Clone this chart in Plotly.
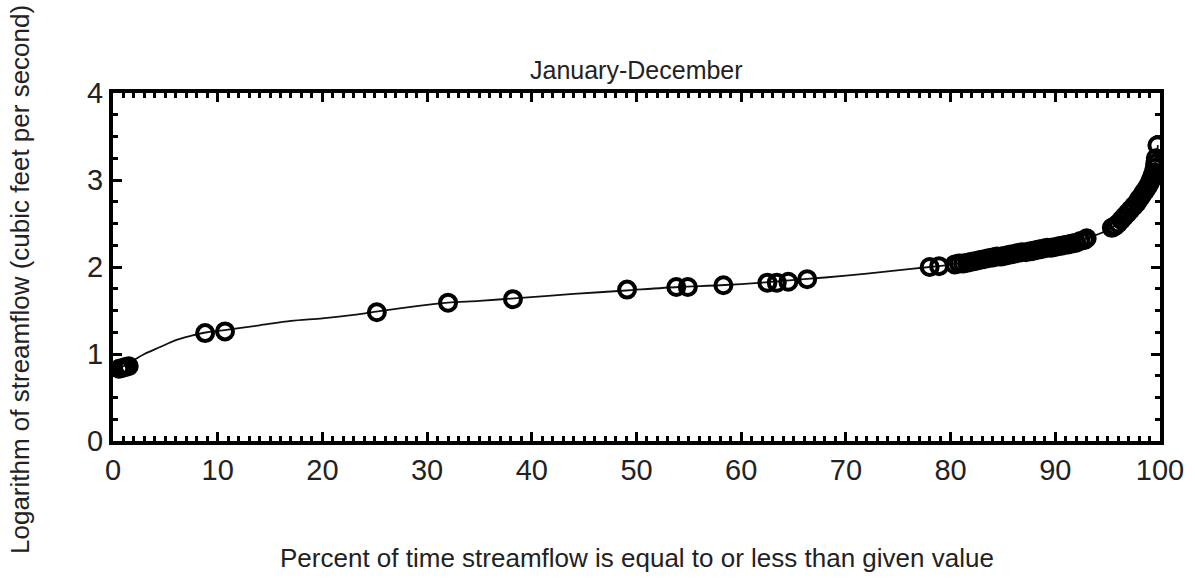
import plotly.graph_objects as go

# Observed (percent of time, log10 streamflow) points
pct = [0.6, 0.9, 1.2, 1.5, 8.8, 10.7, 25.2, 32.0, 38.2, 49.1, 53.8, 54.9, 58.3,
       62.5, 63.4, 64.5, 66.3,
       78.0, 78.9,
       80.4, 80.8, 81.2, 81.6, 82.0, 82.4, 82.8, 83.2, 83.6, 84.0, 84.4, 84.8,
       85.2, 85.6, 86.0, 86.4, 86.8, 87.2, 87.6, 88.0, 88.4, 88.8, 89.2, 89.6,
       90.0, 90.4, 90.8, 91.2, 91.6, 92.0, 92.4, 92.8, 93.0,
       95.4, 95.7, 96.0, 96.3, 96.6, 96.9, 97.2, 97.5, 97.8, 98.0, 98.2, 98.4,
       98.6, 98.8, 98.95, 99.1, 99.2, 99.3, 99.4, 99.5, 99.55, 99.6, 99.75]
logq = [0.83, 0.84, 0.85, 0.86, 1.24, 1.26, 1.48, 1.59, 1.63, 1.74, 1.77, 1.77, 1.79,
        1.82, 1.82, 1.83, 1.86,
        2.00, 2.01,
        2.03, 2.04, 2.04, 2.05, 2.06, 2.07, 2.08, 2.09, 2.10, 2.11, 2.12, 2.12,
        2.13, 2.14, 2.15, 2.16, 2.17, 2.17, 2.18, 2.19, 2.20, 2.21, 2.22, 2.22,
        2.23, 2.24, 2.25, 2.26, 2.27, 2.28, 2.30, 2.31, 2.33,
        2.45, 2.47, 2.50, 2.54, 2.58, 2.62, 2.66, 2.70, 2.74, 2.78, 2.81, 2.85,
        2.88, 2.92, 2.95, 2.99, 3.02, 3.05, 3.09, 3.14, 3.19, 3.25, 3.40]

# Fitted curve
curve_x = [0.2, 1.0, 2.0, 3.0, 4.5, 6.0, 7.5, 9.0, 11.0, 14.0, 17.0, 20.0, 23.0,
           25.3, 29.0, 32.0, 35.0, 38.3, 44.0, 49.0, 54.0, 58.0, 62.0, 66.0, 70.0,
           74.0, 78.0, 82.0, 86.0, 90.0, 93.0, 95.4, 97.0, 98.5, 99.3, 99.8]
curve_y = [0.80, 0.86, 0.93, 1.00, 1.08, 1.16, 1.21, 1.25, 1.28, 1.33, 1.38, 1.41, 1.45,
           1.49, 1.55, 1.59, 1.61, 1.64, 1.69, 1.73, 1.77, 1.79, 1.82, 1.86, 1.90,
           1.95, 2.00, 2.06, 2.15, 2.25, 2.33, 2.45, 2.65, 2.88, 3.05, 3.40]

x_ticks = [0, 10, 20, 30, 40, 50, 60, 70, 80, 90, 100]
y_ticks = [0, 1, 2, 3, 4]

FONT = "Liberation Sans, Arial, sans-serif"

fig = go.Figure()
fig.add_trace(go.Scatter(x=curve_x, y=curve_y, mode="lines",
                         line=dict(color="#111", width=1.8, shape="spline", smoothing=0.8),
                         hoverinfo="skip"))
fig.add_trace(go.Scatter(x=pct, y=logq, mode="markers",
                         marker=dict(symbol="circle-open", size=16, color="black",
                                     line=dict(width=4, color="black"))))

axis_common = dict(showgrid=False, zeroline=False, showline=True, linecolor="black", linewidth=4,
                   mirror="allticks", ticks="inside", tickcolor="black", tickwidth=2.5, ticklen=9,
                   tickfont=dict(family=FONT, size=29, color="#222"))

fig.update_xaxes(range=[0, 100], tickvals=x_ticks, ticktext=[str(v) for v in x_ticks],
                 minor=dict(dtick=1, ticks="inside", ticklen=5, tickwidth=2.5, tickcolor="black"),
                 **axis_common)
fig.update_yaxes(range=[0, 4], tickvals=y_ticks, ticktext=[str(v) for v in y_ticks],
                 minor=dict(dtick=0.25, ticks="inside", ticklen=5, tickwidth=2.5, tickcolor="black"),
                 **axis_common)

fig.update_layout(
    width=1195, height=580,
    margin=dict(l=113, r=35, t=93, b=139, pad=0),
    paper_bgcolor="white", plot_bgcolor="white",
    showlegend=False,
    font=dict(family=FONT, color="#222"),
    annotations=[
        dict(text="January-December", xref="paper", yref="paper", x=0.5, y=1, yanchor="middle",
             yshift=23, showarrow=False, font=dict(family=FONT, size=25, color="#222")),
        dict(text="Percent of time streamflow is equal to or less than given value", xref="paper", yref="paper",
             x=0.5, y=0, yanchor="middle", yshift=-117, showarrow=False,
             font=dict(family=FONT, size=26, color="#222")),
        dict(text="Logarithm of streamflow (cubic feet per second)", xref="paper", yref="paper",
             x=0, y=0.5, xanchor="center", yanchor="middle", xshift=-93, yshift=-13, textangle=-90,
             showarrow=False, font=dict(family=FONT, size=26, color="#222")),
    ],
)

fig.write_html("out.html")
